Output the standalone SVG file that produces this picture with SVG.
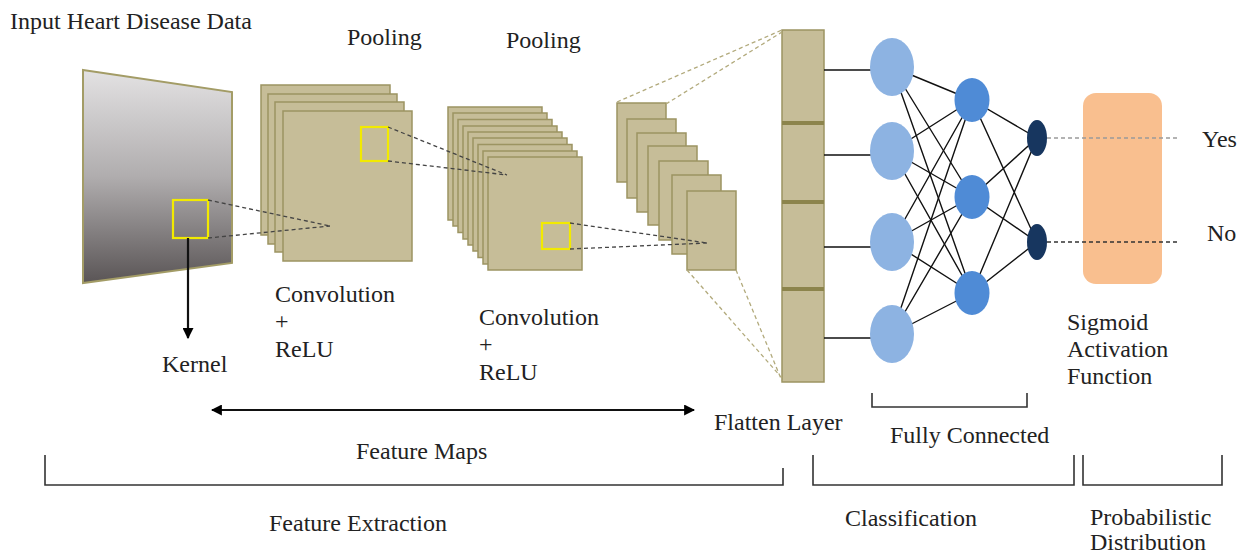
<svg xmlns="http://www.w3.org/2000/svg" width="1247" height="555" viewBox="0 0 1247 555">
<defs>
<linearGradient id="gIn" x1="0" y1="0" x2="0" y2="1">
<stop offset="0" stop-color="#e3e2e3"/>
<stop offset="0.5" stop-color="#b0adae"/>
<stop offset="1" stop-color="#5a5556"/>
</linearGradient>
<marker id="ah" viewBox="0 0 10 10" refX="9" refY="5" markerWidth="5" markerHeight="5" orient="auto-start-reverse" markerUnits="strokeWidth">
<path d="M0,0 L10,5 L0,10 z" fill="#000"/>
</marker>
<style>
.t{font-family:"Liberation Serif","Times New Roman",serif;font-size:24px;fill:#222}
.fm{fill:#c6bd98;stroke:#9c9462;stroke-width:1.5}
.ks{fill:none;stroke:#f2ea00;stroke-width:2.2}
.dk{fill:none;stroke:#444;stroke-width:1.3;stroke-dasharray:4 3}
.dl{fill:none;stroke:#b2aa7c;stroke-width:1.3;stroke-dasharray:4 3}
.br{fill:none;stroke:#333;stroke-width:1.6}
.fc{stroke:#111;stroke-width:1.4}
.n1{fill:#8db3e2}
.n2{fill:#4f8bd6}
.n3{fill:#17365f}
</style>
</defs>
<rect width="1247" height="555" fill="#fff"/>

<g id="input">
<polygon points="83,70 232,92 232,263 83,283" fill="url(#gIn)" stroke="#a39c66" stroke-width="2"/>
<rect class="ks" x="173" y="200" width="35" height="38"/>
</g>

<g id="conv1">
<rect class="fm" x="261" y="85" width="129" height="150"/>
<rect class="fm" x="268" y="94" width="129" height="150"/>
<rect class="fm" x="275" y="102" width="129" height="150"/>
<rect class="fm" x="283" y="111" width="129" height="150"/>
<rect class="ks" x="361" y="127" width="27" height="34"/>
</g>

<g id="conv2">
<rect class="fm" x="448" y="107" width="94" height="113"/>
<rect class="fm" x="453" y="113" width="94" height="113"/>
<rect class="fm" x="458" y="119.5" width="94" height="113"/>
<rect class="fm" x="463" y="126" width="94" height="113"/>
<rect class="fm" x="468" y="132" width="94" height="113"/>
<rect class="fm" x="473" y="138" width="94" height="113"/>
<rect class="fm" x="478" y="144.5" width="94" height="113"/>
<rect class="fm" x="483" y="151" width="94" height="113"/>
<rect class="fm" x="488" y="157" width="94" height="113"/>
<rect class="ks" x="542" y="223" width="28" height="26"/>
</g>

<g id="pool">
<rect class="fm" x="617" y="103" width="49" height="79"/>
<rect class="fm" x="627" y="119" width="49" height="79"/>
<rect class="fm" x="637" y="133" width="49" height="79"/>
<rect class="fm" x="648" y="146" width="49" height="79"/>
<rect class="fm" x="659" y="161" width="49" height="79"/>
<rect class="fm" x="672" y="175" width="49" height="79"/>
<rect class="fm" x="687" y="191" width="49" height="79"/>
</g>

<g id="flatten">
<rect class="fm" x="782" y="30" width="42" height="352"/>
<rect x="782" y="121" width="42" height="4" fill="#8c844c"/>
<rect x="782" y="200" width="42" height="4" fill="#8c844c"/>
<rect x="782" y="287" width="42" height="4" fill="#8c844c"/>
</g>

<g id="sigmoid">
<rect x="1083" y="93" width="79" height="191" rx="13" fill="#f9bf8f"/>
</g>

<g id="connectors">
<path class="dk" d="M208,200 L330,226 M208,238 L330,226"/>
<path class="dk" d="M388,127 L507,175 M388,161 L507,175"/>
<path class="dk" d="M570,223 L707,243 M570,249 L707,243"/>
<path class="dl" d="M617,102 L782,30 M666,104 L782,32 M687,270 L782,378 M736,270 L782,381"/>
<path class="fc" d="M824,70 L880,70 M824,155 L880,155 M824,247 L880,247 M824,338 L880,338"/>
<g class="fc">
<path d="M892,67 L972,100 M892,67 L972,197 M892,67 L972,293"/>
<path d="M892,151 L972,100 M892,151 L972,197 M892,151 L972,293"/>
<path d="M892,242 L972,100 M892,242 L972,197 M892,242 L972,293"/>
<path d="M892,334 L972,100 M892,334 L972,197 M892,334 L972,293"/>
<path d="M972,100 L1037,138 M972,100 L1037,242 M972,197 L1037,138 M972,197 L1037,242 M972,293 L1037,138 M972,293 L1037,242"/>
</g>
<path d="M1047,138 L1178,138" fill="none" stroke="#9a9a9a" stroke-width="1.5" stroke-dasharray="4 3"/>
<path d="M1047,242 L1178,242" fill="none" stroke="#333" stroke-width="1.5" stroke-dasharray="4 3"/>
<path d="M188,238 L188,338" fill="none" stroke="#111" stroke-width="2.2" marker-end="url(#ah)"/>
<path d="M212,410 L694,410" fill="none" stroke="#111" stroke-width="2.2" marker-start="url(#ah)" marker-end="url(#ah)"/>
</g>

<g id="fc-nodes">
<ellipse class="n1" cx="892" cy="67" rx="22" ry="29"/>
<ellipse class="n1" cx="892" cy="151" rx="22" ry="29"/>
<ellipse class="n1" cx="892" cy="242" rx="22" ry="29"/>
<ellipse class="n1" cx="892" cy="334" rx="22" ry="29"/>
<ellipse class="n2" cx="972" cy="100" rx="17.5" ry="22"/>
<ellipse class="n2" cx="972" cy="197" rx="17.5" ry="22"/>
<ellipse class="n2" cx="972" cy="293" rx="17.5" ry="22"/>
<ellipse class="n3" cx="1037" cy="138" rx="10" ry="18"/>
<ellipse class="n3" cx="1037" cy="242" rx="10" ry="18"/>
</g>

<g id="brackets">
<path class="br" d="M45,455 L45,485 L783,485 L783,468"/>
<path class="br" d="M813,455 L813,485 L1074,485 L1074,455"/>
<path class="br" d="M1083,455 L1083,485 L1222,485 L1222,455"/>
<path class="br" d="M872,393 L872,407 L1027,407 L1027,393"/>
</g>

<g id="labels">
<text class="t" x="10" y="29">Input Heart Disease Data</text>
<text class="t" x="347" y="45">Pooling</text>
<text class="t" x="506" y="48">Pooling</text>
<text class="t" x="275" y="302">Convolution</text>
<text class="t" x="275" y="329">+</text>
<text class="t" x="275" y="357">ReLU</text>
<text class="t" x="479" y="325">Convolution</text>
<text class="t" x="479" y="352">+</text>
<text class="t" x="479" y="380">ReLU</text>
<text class="t" x="162" y="372">Kernel</text>
<text class="t" x="714" y="430">Flatten  Layer</text>
<text class="t" x="890" y="443">Fully Connected</text>
<text class="t" x="356" y="459">Feature Maps</text>
<text class="t" x="269" y="531">Feature Extraction</text>
<text class="t" x="845" y="526">Classification</text>
<text class="t" x="1090" y="525">Probabilistic</text>
<text class="t" x="1090" y="550">Distribution</text>
<text class="t" x="1067" y="330">Sigmoid</text>
<text class="t" x="1067" y="357">Activation</text>
<text class="t" x="1067" y="384">Function</text>
<text class="t" x="1202" y="147">Yes</text>
<text class="t" x="1207" y="241">No</text>
</g>
</svg>
